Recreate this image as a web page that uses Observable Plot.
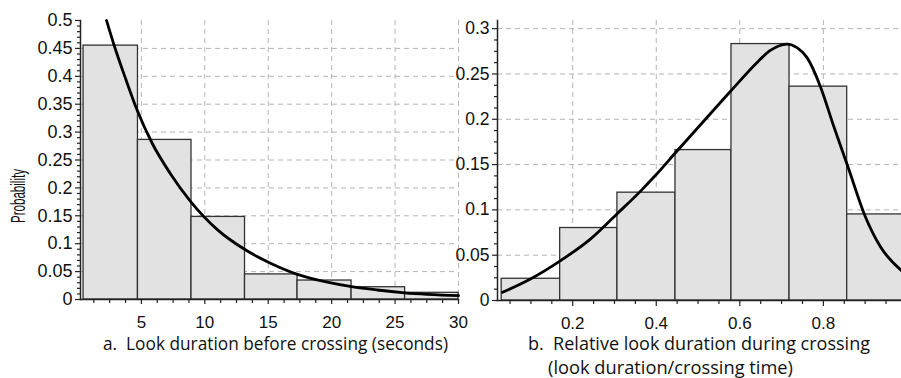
<!DOCTYPE html>
<html><head><meta charset="utf-8">
<script src="https://cdn.jsdelivr.net/npm/d3@7"></script>
<script src="https://cdn.jsdelivr.net/npm/@observablehq/plot@0.6"></script>
<style>
html,body{margin:0;padding:0;background:#fff;overflow:hidden;}
#root{position:relative;width:901px;height:378px;overflow:hidden;}
.panel{position:absolute;top:0;}
.lbl{position:absolute;left:0;top:0;white-space:pre;color:#111;line-height:1;}
</style></head><body><div id="root"></div>
<script>
// ---- Panel a: look duration before crossing (seconds)
const durEdges = [0.44, 4.73, 8.95, 13.17, 17.31, 21.57, 25.79, 30.0];
const durProb  = [0.455, 0.286, 0.148, 0.045, 0.034, 0.022, 0.012];
const durCurveX = [2.25, 2.83, 3.75, 4.67, 5.85, 7.3, 8.87, 11.1, 13.13, 15.18, 17.3, 19.66, 21.57, 23.6, 25.75, 30.0];
const durCurveY = [0.5, 0.457, 0.396, 0.339, 0.280, 0.225, 0.176, 0.123, 0.090, 0.065, 0.045, 0.031, 0.023, 0.017, 0.012, 0.007];
const durXTicks = [5, 10, 15, 20, 25, 30];
const durYTicks = [0, 0.05, 0.1, 0.15, 0.2, 0.25, 0.3, 0.35, 0.4, 0.45, 0.5];

// ---- Panel b: relative look duration during crossing
const relEdges = [0.03, 0.17, 0.307, 0.446, 0.58, 0.719, 0.857, 0.996];
const relProb  = [0.024, 0.080, 0.119, 0.166, 0.283, 0.236, 0.095];
const relCurveX = [0.032, 0.1, 0.171, 0.243, 0.307, 0.363, 0.4, 0.446, 0.506, 0.58, 0.642, 0.673, 0.713, 0.737, 0.761, 0.793, 0.825, 0.86, 0.9, 0.937, 0.987];
const relCurveY = [0.009, 0.024, 0.044, 0.068, 0.096, 0.121, 0.139, 0.163, 0.194, 0.232, 0.263, 0.276, 0.283, 0.279, 0.268, 0.236, 0.192, 0.146, 0.093, 0.059, 0.033];
const relXTicks = [0.2, 0.4, 0.6, 0.8];
const relYTicks = [0, 0.05, 0.1, 0.15, 0.2, 0.25, 0.3];

// minor tick positions
const durMinorX = d3.range(1, 24).map(i => i * 1.25).filter((_, i) => (i + 1) % 4 !== 0);
const durMinorY = d3.range(1, 50).map(i => i / 100).filter((_, i) => (i + 1) % 5 !== 0);
const relMinorX = d3.range(1, 20).map(i => i * 0.05).filter((_, i) => (i + 1) % 4 !== 0);
const relMinorY = d3.range(1, 25).map(i => i * 0.0125).filter((_, i) => (i + 1) % 4 !== 0);

const durBins = durProb.map((p, i) => ({x1: durEdges[i], x2: durEdges[i + 1], p}));
const relBins = relProb.map((p, i) => ({x1: relEdges[i], x2: relEdges[i + 1], p}));
const durCurve = durCurveX.map((x, i) => ({x, y: durCurveY[i]}));
const relCurve = relCurveX.map((x, i) => ({x, y: relCurveY[i]}));

const fmt = d => String(d);
const gridStyle = {stroke: "#b4b4b4", strokeOpacity: 1, strokeDasharray: "5,4", strokeWidth: 1};
const barStyle = {fill: "#e2e2e2", stroke: "#333", strokeWidth: 1.3, inset: 0};
const lineStyle = {stroke: "#000", strokeWidth: 2.8, curve: "monotone-x"};
const svgStyle = {fontFamily: "'Liberation Sans', Arial, sans-serif", fontSize: "17px", color: "#111", background: "transparent"};
const tickStyle = {stroke: "#222", strokeWidth: 1.2, strokeOpacity: 1};

const left = Plot.plot({
  width: 470, height: 340,
  marginLeft: 80, marginRight: 12, marginTop: 20, marginBottom: 41,
  x: {domain: [0.2, 30]}, y: {domain: [0, 0.5]},
  style: svgStyle,
  marks: [
    Plot.gridX(durXTicks, gridStyle),
    Plot.gridY(durYTicks.filter(v => v > 0 && v < 0.5), gridStyle),
    Plot.rectY(durBins, {x1: "x1", x2: "x2", y: "p", ...barStyle}),
    Plot.line(durCurve, {x: "x", y: "y", ...lineStyle}),
    Plot.frame({anchor: "left", stroke: "#222", strokeWidth: 1.5}),
    Plot.frame({anchor: "bottom", stroke: "#222", strokeWidth: 1.5}),
    Plot.axisY(durYTicks, {tickSize: 5, tickPadding: 3, fontSize: 18, label: null, tickFormat: fmt, ...tickStyle}),
    Plot.axisY(durMinorY, {tickSize: 3, tickFormat: () => "", label: null, ...tickStyle}),
    Plot.axisX(durXTicks, {tickSize: 5, tickPadding: 11, label: null, tickFormat: fmt, ...tickStyle}),
    Plot.axisX(durMinorX, {tickSize: 4, tickFormat: () => "", label: null, ...tickStyle})
  ]
});

const right = Plot.plot({
  width: 471, height: 340,
  marginLeft: 67, marginRight: 0, marginTop: 20, marginBottom: 40,
  x: {domain: [0.02, 0.987]}, y: {domain: [0, 0.309]},
  style: svgStyle,
  marks: [
    Plot.gridX(relXTicks, gridStyle),
    Plot.gridY(relYTicks.filter(v => v > 0), gridStyle),
    Plot.rectY(relBins, {x1: "x1", x2: "x2", y: "p", ...barStyle}),
    Plot.line(relCurve, {x: "x", y: "y", ...lineStyle}),
    Plot.frame({anchor: "left", stroke: "#222", strokeWidth: 1.5}),
    Plot.frame({anchor: "bottom", stroke: "#222", strokeWidth: 1.5}),
    Plot.axisY(relYTicks, {tickSize: 5, tickPadding: 3, fontSize: 17.5, label: null, tickFormat: fmt, ...tickStyle}),
    Plot.axisY(relMinorY, {tickSize: 3, tickFormat: () => "", label: null, ...tickStyle}),
    Plot.axisX(relXTicks, {tickSize: 6, tickPadding: 10, label: null, tickFormat: fmt, ...tickStyle}),
    Plot.axisX(relMinorX, {tickSize: 4, tickFormat: () => "", label: null, ...tickStyle})
  ]
});

const root = document.getElementById("root");
const wl = document.createElement("div"); wl.className = "panel"; wl.style.left = "0px"; wl.style.width = "470px"; wl.appendChild(left);
const wr = document.createElement("div"); wr.className = "panel"; wr.style.left = "430px"; wr.style.width = "471px"; wr.appendChild(right);
root.appendChild(wl); root.appendChild(wr);

// text labels: (x, baseline) of the text start, target length, font
function label(text, x, baseline, length, size, family, rotate) {
  const d = document.createElement("div");
  d.className = "lbl";
  d.style.fontFamily = family;
  d.style.fontSize = size + "px";
  const t = document.createElement("span"); t.textContent = text;
  const m = document.createElement("span");
  m.style.display = "inline-block"; m.style.width = "0px"; m.style.height = "0px"; m.style.verticalAlign = "baseline";
  d.appendChild(t); d.appendChild(m);
  root.appendChild(d);
  const base = m.offsetTop;
  const w = t.getBoundingClientRect().width;
  const s = length / w;
  d.style.left = x + "px";
  d.style.top = (baseline - base) + "px";
  d.style.transformOrigin = `0px ${base}px`;
  d.style.transform = (rotate ? "rotate(-90deg) " : "") + `scaleX(${s})`;
}
label("Probability", 25, 223, 54, 20, "'Liberation Sans', Arial, sans-serif", true);
label("a.  Look duration before crossing (seconds)", 103, 350, 345, 17.5, "'Open Sans', sans-serif", false);
label("b.  Relative look duration during crossing", 528, 350, 342, 17.5, "'Open Sans', sans-serif", false);
label("(look duration/crossing time)", 548, 374, 245, 17.5, "'Open Sans', sans-serif", false);
</script>
</body></html>
